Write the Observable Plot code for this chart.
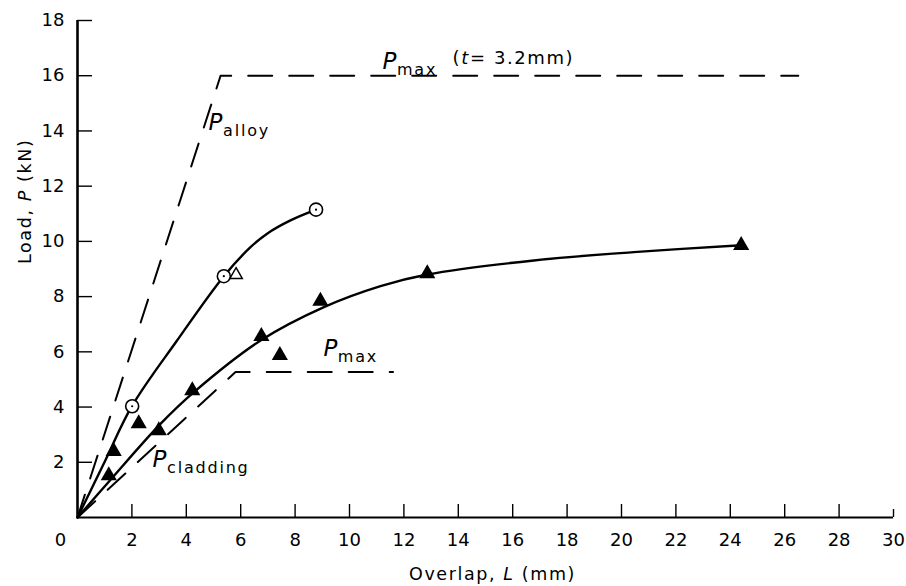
<!DOCTYPE html>
<html><head><meta charset="utf-8">
<script src="https://cdn.jsdelivr.net/npm/d3@7"></script>
<script src="https://cdn.jsdelivr.net/npm/@observablehq/plot@0.6"></script>
<style>body{margin:0;background:#fff} svg{display:block}</style>
</head><body><div id="chart"></div>
<script>
// ---- axis ticks ----
const xTickLabels = [2,4,6,8,10,12,14,16,18,20,22,24,26,28,30];
const xTickMarks = [2,4,6,8,10,12,14,16,18,20,22,24,26,28];
const xEndTick = [30];
const yTicks = [2,4,6,8,10,12,14,16,18];

// ---- solid fitted curves ----
const alloyCurveX = [0, 1.0, 2.0, 3.66, 5.38, 6.36, 6.97, 7.83, 8.77];
const alloyCurveY = [0, 2.02, 4.03, 6.41, 8.74, 9.79, 10.28, 10.76, 11.15];
const cladCurveX = [0, 1.2, 3.05, 4.28, 6.73, 9.06, 11.14, 12.86, 16.78, 20.45, 24.4];
const cladCurveY = [0, 1.35, 3.39, 4.54, 6.41, 7.62, 8.38, 8.80, 9.31, 9.61, 9.86];

// ---- dashed limit lines ----
const alloyLimitX = [0, 5.26, 26.5];
const alloyLimitY = [0, 16.0, 16.0];
const cladLimitX = [0, 5.81, 11.6];
const cladLimitY = [0, 5.27, 5.27];

// ---- measured points ----
const filledTriX = [1.15, 1.33, 2.25, 2.99, 4.22, 6.76, 7.44, 8.93, 12.86, 24.4];
const filledTriY = [1.52, 2.40, 3.40, 3.15, 4.60, 6.56, 5.87, 7.84, 8.83, 9.86];
const circleX = [2.01, 5.38, 8.77];
const circleY = [4.03, 8.74, 11.15];
const openTriX = [5.83];
const openTriY = [8.79];

// ---- annotations ----
const subLabels = ["*P*_{alloy}", "*P*_{max}", "*P*_{max}", "*P*_{cladding}"];
const subLabelX = [4.82, 11.21, 9.04, 2.76];
const subLabelY = [14.31, 16.52, 6.12, 2.10];
const noteText = ["(*t*= 3.2mm)"];
const noteX = [13.79];
const noteY = [16.63];

const pts = (xs, ys) => xs.map((x, i) => ({x, y: ys[i]}));
const alloyCurve = pts(alloyCurveX, alloyCurveY);
const cladCurve = pts(cladCurveX, cladCurveY);
const alloyLimit = pts(alloyLimitX, alloyLimitY);
const cladLimit = pts(cladLimitX, cladLimitY);
const filledTri = pts(filledTriX, filledTriY);
const circles = pts(circleX, circleY);
const openTri = pts(openTriX, openTriY);
const labels = subLabels.map((t, i) => ({t, x: subLabelX[i], y: subLabelY[i]}));
const notes = noteText.map((t, i) => ({t, x: noteX[i], y: noteY[i]}));

const FONT = "DejaVu Sans";

const chart = Plot.plot({
  width: 906, height: 586,
  marginLeft: 77, marginRight: 13, marginTop: 20, marginBottom: 69,
  x: {domain: [0, 30], axis: null},
  y: {domain: [0, 18], axis: null},
  style: {fontFamily: FONT, fontSize: "18px", color: "black", background: "white", overflow: "visible"},
  marks: [
    // axes lines
    Plot.ruleX([0], {stroke: "black", strokeWidth: 2.6}),
    Plot.ruleY([0], {stroke: "black", strokeWidth: 2}),
    // ticks (inward)
    Plot.axisY(yTicks, {tickSize: -15, text: null, label: null, strokeWidth: 1.4}),
    Plot.axisY(yTicks, {tickSize: 0, tickPadding: 13, label: null, fontSize: 18}),
    Plot.axisX(xTickMarks, {tickSize: -13, text: null, label: null, strokeWidth: 1.4}),
    Plot.axisX(xEndTick, {tickSize: -8, text: null, label: null, strokeWidth: 1.4}),
    Plot.axisX(xTickLabels, {tickSize: 0, tickPadding: 16, label: null, fontSize: 18}),
    Plot.axisX([0], {tickSize: 0, tickPadding: 16, dx: -17, label: null, fontSize: 18}),
    // axis titles
    Plot.text(["Overlap, *L* (mm)"], {frameAnchor: "bottom", dx: 7, dy: 62, fontSize: 17.5, text: d => d}),
    Plot.text(["Load, *P* (kN)"], {frameAnchor: "left", dx: -52, dy: -5, rotate: -90, fontSize: 17.5, text: d => d}),
    // dashed limit lines
    Plot.line(alloyLimit, {x: "x", y: "y", stroke: "black", strokeWidth: 2, strokeDasharray: "24,17"}),
    Plot.line(cladLimit, {x: "x", y: "y", stroke: "black", strokeWidth: 2, strokeDasharray: "24,17"}),
    // solid curves
    Plot.line(alloyCurve, {x: "x", y: "y", curve: "catmull-rom", stroke: "black", strokeWidth: 2.4}),
    Plot.line(cladCurve, {x: "x", y: "y", curve: "catmull-rom", stroke: "black", strokeWidth: 2.4}),
    // markers
    Plot.dot(filledTri, {x: "x", y: "y", symbol: "triangle", r: 6, fill: "black", stroke: "none"}),
    Plot.dot(circles, {x: "x", y: "y", r: 6.5, fill: "white", stroke: "black", strokeWidth: 1.6}),
    Plot.dot(circles, {x: "x", y: "y", r: 1.1, fill: "black", stroke: "none"}),
    Plot.dot(openTri, {x: "x", y: "y", symbol: "triangle", r: 4.6, fill: "white", stroke: "black", strokeWidth: 1.5}),
    // annotations
    Plot.text(labels, {x: "x", y: "y", text: "t", textAnchor: "start", fontSize: 23}),
    Plot.text(notes, {x: "x", y: "y", text: "t", textAnchor: "start", fontSize: 18})
  ]
});

// rich text: *italic*, _{subscript}
d3.select(chart).selectAll("text").each(function() {
  const s = this.textContent;
  if (!/\*|_\{/.test(s)) return;
  const el = d3.select(this);
  el.text(null).attr("letter-spacing", "1.6");
  const parts = s.split(/(\*[^*]+\*|_\{[^}]+\})/).filter(p => p);
  let shifted = false;
  for (const p of parts) {
    if (p.startsWith("*")) {
      const t = el.append("tspan").attr("font-style", "italic").text(p.slice(1, -1));
      if (shifted) { t.attr("dy", "-6"); shifted = false; }
    } else if (p.startsWith("_{")) {
      el.append("tspan").attr("font-size", "16px").attr("dx", -1).attr("dy", "6").attr("letter-spacing", "1.8").text(p.slice(2, -1));
      shifted = true;
    } else {
      const t = el.append("tspan").text(p);
      if (shifted) { t.attr("dy", "-6"); shifted = false; }
    }
  }
});

document.getElementById("chart").appendChild(chart);
</script>
</body></html>
